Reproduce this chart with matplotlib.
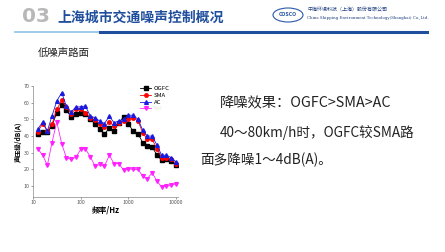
import matplotlib
matplotlib.use("Agg")
import matplotlib.pyplot as plt
from matplotlib.patches import Ellipse

plt.rcParams['font.family'] = ['Noto Sans CJK SC', 'DejaVu Sans']

freqs = [12.5, 16, 20, 25, 31.5, 40, 50, 63, 80, 100, 125, 160, 200, 250, 315,
         400, 500, 630, 800, 1000, 1250, 1600, 2000, 2500, 3150, 4000, 5000, 6300, 8000, 10000]
ogfc = [41.5, 42.5, 42.5, 46, 54, 58.5, 55.5, 51.5, 53.5, 54, 53.5, 50.5, 47, 44.5, 41,
        45, 43, 48, 51.5, 47.5, 43, 41.5, 36, 34, 33.5, 28.5, 25.5, 26.5, 25, 22.5]
sma = [42.5, 47.5, 43, 47, 56, 61.5, 57.5, 53.5, 56.5, 56.5, 54, 51, 49.5, 47.5, 45.5,
       48.5, 46, 48, 49, 50.5, 51, 49, 42, 38, 38, 32.5, 27, 27, 26, 23.5]
ac = [44, 48.5, 43, 52, 61, 66, 58, 54.5, 57.5, 57.5, 58, 52, 51, 49, 47.5,
      52, 48, 49, 50, 52.5, 52.5, 50, 43.5, 40, 40, 34.5, 28.5, 28.5, 27, 24.5]
bg = [32.5, 28.5, 22.5, 36, 48.5, 35.5, 27, 26, 27.5, 32, 32.5, 27.5, 22, 23, 22,
      28.5, 23.5, 23.5, 19.5, 20.5, 20, 20, 16, 14.5, 18, 13, 9.5, 10, 10.5, 11.5]
series_labels = ["OGFC", "SMA", "AC", "Ref"]
yticks = [10, 20, 30, 40, 50, 60, 70]
xticks = [10, 100, 1000, 10000]
xtick_labels = ["10", "100", "1000", "10000"]

fig = plt.figure(figsize=(4.45, 2.52), dpi=100)
fig.patch.set_facecolor("white")

# Header
fig.text(22/445, 1 - 17/252, "03", fontsize=14.5, fontweight="bold", color="#b8b8b8",
         va="center", ha="left", family="DejaVu Sans")
fig.text(57/445, 1 - 18/252, "上海城市交通噪声控制概况", fontsize=10, fontweight="bold",
         color="#1f4e9c", va="center", ha="left")
fig.add_artist(plt.Line2D([15/445, 100/445], [1 - 32/252, 1 - 32/252], color="#8fc3e6", lw=1.2))
fig.add_artist(plt.Line2D([100/445, 427/445], [1 - 32/252, 1 - 32/252], color="#1f4e9c", lw=2.2))
# logo
fig.add_artist(Ellipse((288/445, 1 - 15/252), 30/445, 14/252, facecolor="none",
                       edgecolor="#2a5aa8", lw=0.8))
fig.text(288/445, 1 - 14/252, "COSCO", fontsize=3.3, fontweight="bold", color="#2a5aa8",
         ha="center", va="center", family="DejaVu Sans")
fig.text(307/445, 1 - 10/252, "中海环境科技（上海）股份有限公司", fontsize=3.6, color="#1f3f80",
         ha="left", va="center")
fig.text(307/445, 1 - 18/252, "China Shipping Environment Technology(Shanghai) Co.,Ltd.",
         fontsize=2.8, color="#1f3f80", ha="left", va="center", family="DejaVu Serif")

# Subtitle
fig.text(38/445, 1 - 53/252, "低噪声路面", fontsize=7.5, color="#222222", va="center", ha="left")

# Right-side text
fig.text(220/445, 1 - 103/252, "降噪效果：OGFC>SMA>AC", fontsize=10.3, color="#222222",
         va="center", ha="left")
fig.text(220/445, 1 - 133/252, "40～80km/h时，OGFC较SMA路", fontsize=9.8, color="#222222",
         va="center", ha="left")
fig.text(200/445, 1 - 160/252, "面多降噪1～4dB(A)。", fontsize=9.8, color="#222222",
         va="center", ha="left")

# Chart
ax = fig.add_axes([33/445, 1 - 197/252, 145/445, 111/252])
ax.plot(freqs, ogfc, color="black", marker="s", ms=2.5, lw=0.6, label=series_labels[0])
ax.plot(freqs, sma, color="red", marker="o", ms=2.5, lw=0.6, label=series_labels[1])
ax.plot(freqs, ac, color="#1a1adf", marker="^", ms=2.7, lw=0.6, label=series_labels[2])
ax.plot(freqs, bg, color="#ff22ff", marker="v", ms=2.7, lw=0.6, label=series_labels[3])
ax.set_xscale("log")
ax.set_xlim(10, 11000)
ax.set_ylim(3.5, 70)
ax.set_xticks(xticks)
ax.set_xticklabels(xtick_labels)
ax.minorticks_off()
ax.set_yticks(yticks)
ax.tick_params(labelsize=3.8, length=1.5, width=0.4, colors="#555555", pad=1)
for s in ["top", "right"]:
    ax.spines[s].set_visible(False)
for s in ["left", "bottom"]:
    ax.spines[s].set_linewidth(0.5)
    ax.spines[s].set_color("#888888")
ax.set_xlabel("频率/Hz", fontsize=5.5, fontweight="bold", labelpad=0)
ax.set_ylabel("声压级/dB(A)", fontsize=4.8, fontweight="bold", labelpad=1)
leg = ax.legend(loc="upper left", bbox_to_anchor=(0.71, 1.03), fontsize=4.3, frameon=False,
                handlelength=2.0, labelspacing=0.25, handletextpad=0.4, borderpad=0.1)
leg.get_texts()[3].set_color("#eeeadd")

fig.savefig("out.png", dpi=100, facecolor="white")
